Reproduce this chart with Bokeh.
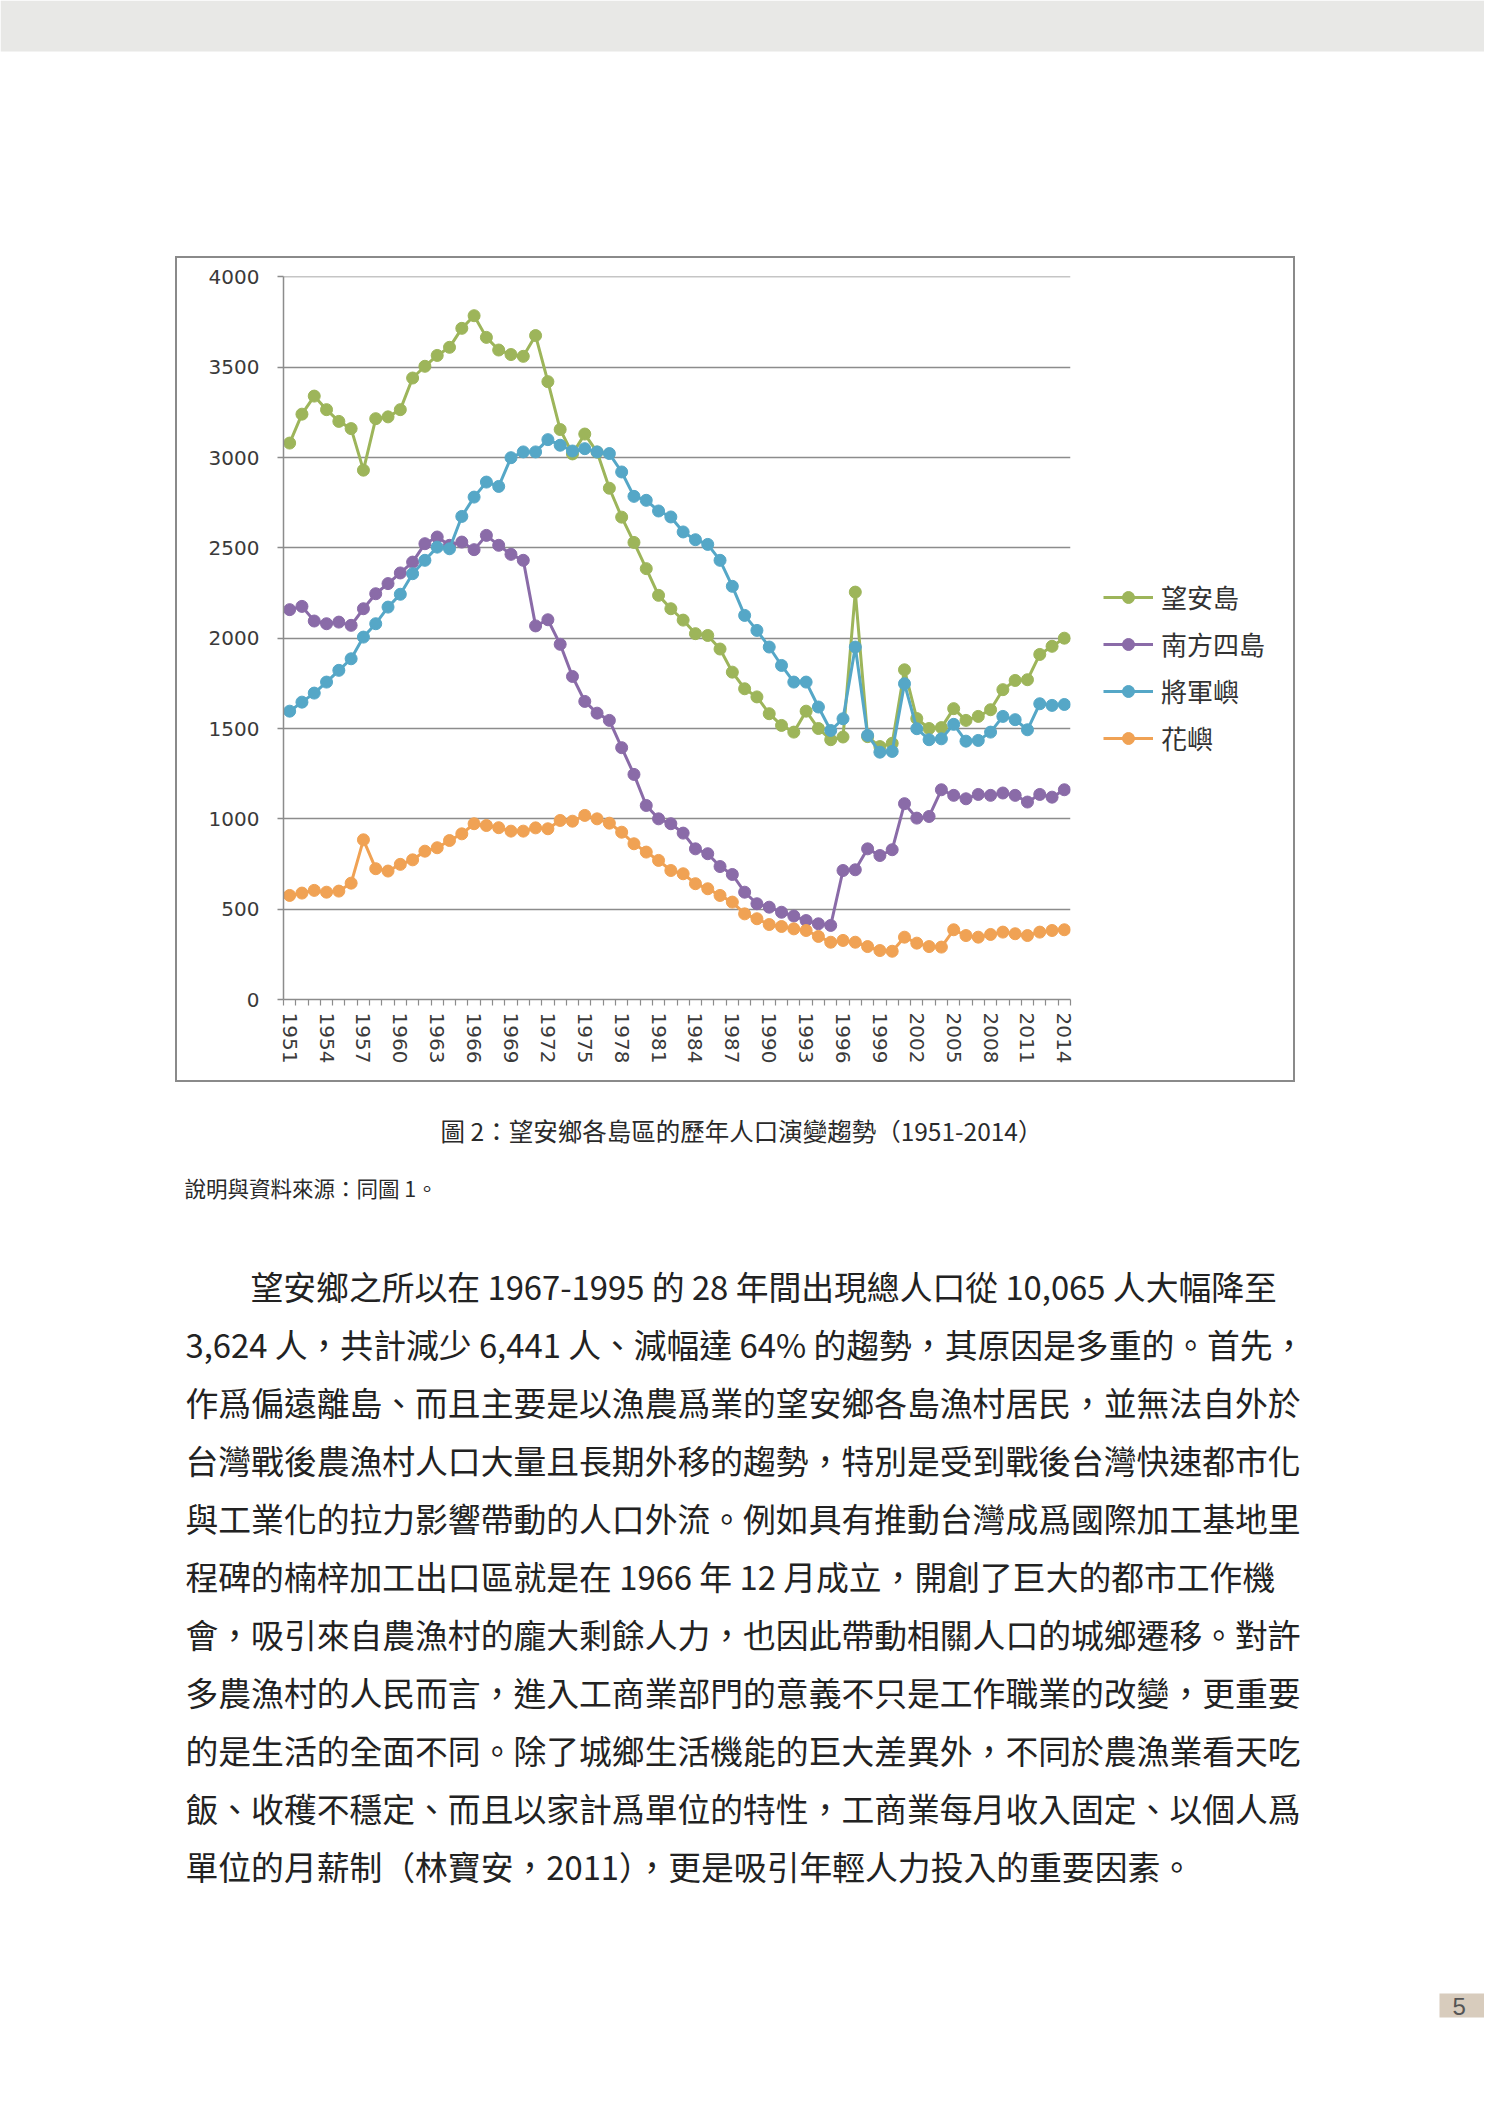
from bokeh.plotting import figure
from bokeh.models import (Range1d, LinearAxis, FixedTicker, Grid, Legend, LegendItem,
                          Spacer, ColumnDataSource)
from bokeh.layouts import column, row
from bokeh.core.properties import value
from bokeh.embed import file_html
from bokeh.resources import INLINE

# ---------------- data ----------------
years = list(range(1951, 2015))
wangan = [3080, 3240, 3340, 3265, 3200, 3160, 2930, 3215, 3225, 3265,
          3440, 3505, 3565, 3610, 3715, 3785, 3665, 3595, 3570, 3560,
          3675, 3420, 3155, 3020, 3130, 3030, 2830, 2670, 2530, 2385,
          2237, 2163, 2100, 2025, 2015, 1940, 1812, 1720, 1675, 1582,
          1517, 1480, 1596, 1500, 1438, 1453, 2255, 1455, 1400, 1418,
          1825, 1555, 1500, 1505, 1610, 1545, 1567, 1604, 1715, 1766,
          1770, 1910, 1955, 2000]
nanfang = [2158, 2176, 2095, 2080, 2089, 2071, 2163, 2246, 2302, 2361,
           2421, 2523, 2560, 2514, 2532, 2490, 2569, 2514, 2464, 2431,
           2068, 2102, 1966, 1788, 1650, 1585, 1545, 1394, 1246, 1074,
           1000, 973, 921, 834, 807, 736, 692, 594, 530, 511,
           483, 462, 437, 419, 410, 714, 718, 834, 797, 829,
           1084, 1004, 1013, 1161, 1130, 1111, 1135, 1130, 1143, 1130,
           1093, 1135, 1120, 1161]
jiangjun = [1596, 1646, 1696, 1757, 1822, 1886, 2006, 2080, 2172, 2243,
            2357, 2431, 2504, 2495, 2674, 2781, 2864, 2840, 2999, 3031,
            3031, 3099, 3068, 3036, 3049, 3031, 3022, 2920, 2785, 2763,
            2704, 2671, 2588, 2545, 2519, 2431, 2287, 2126, 2043, 1951,
            1849, 1757, 1757, 1619, 1489, 1554, 1951, 1462, 1369, 1373,
            1748, 1499, 1438, 1443, 1523, 1430, 1434, 1480, 1567, 1549,
            1493, 1637, 1628, 1633]
huayu = [576, 589, 604, 594, 600, 644, 884, 724, 711, 748,
         773, 821, 840, 880, 917, 973, 963, 951, 932, 932,
         950, 945, 991, 987, 1019, 1000, 976, 926, 862, 816,
         770, 714, 696, 641, 613, 576, 539, 474, 447, 415,
         404, 391, 382, 349, 317, 327, 317, 293, 271, 267,
         345, 312, 293, 290, 386, 354, 345, 360, 373, 364,
         354, 373, 382, 386]
series_names = ["望安島", "南方四島", "將軍嶼", "花嶼"]
series_values = [wangan, nanfang, jiangjun, huayu]
series_colors = ["#9db55a", "#8a6ba8", "#55a7c7", "#f0a254"]
y_ticks = [0, 500, 1000, 1500, 2000, 2500, 3000, 3500, 4000]
x_label_years = list(range(1951, 2015, 3))

caption = "圖 2：望安鄉各島區的歷年人口演變趨勢（1951-2014）"
note = "說明與資料來源：同圖 1。"
body_lines = [
    "望安鄉之所以在 1967-1995 的 28 年間出現總人口從 10,065 人大幅降至",
    "3,624 人，共計減少 6,441 人、減幅達 64% 的趨勢，其原因是多重的。首先，",
    "作爲偏遠離島、而且主要是以漁農爲業的望安鄉各島漁村居民，並無法自外於",
    "台灣戰後農漁村人口大量且長期外移的趨勢，特別是受到戰後台灣快速都市化",
    "與工業化的拉力影響帶動的人口外流。例如具有推動台灣成爲國際加工基地里",
    "程碑的楠梓加工出口區就是在 1966 年 12 月成立，開創了巨大的都市工作機",
    "會，吸引來自農漁村的龐大剩餘人力，也因此帶動相關人口的城鄉遷移。對許",
    "多農漁村的人民而言，進入工商業部門的意義不只是工作職業的改變，更重要",
    "的是生活的全面不同。除了城鄉生活機能的巨大差異外，不同於農漁業看天吃",
    "飯、收穫不穩定、而且以家計爲單位的特性，工商業每月收入固定、以個人爲",
    "單位的月薪制（林寶安，2011），更是吸引年輕人力投入的重要因素。",
]
page_number = "5"

CJK = "Noto Sans CJK TC"
AX_FONT = "DejaVu Sans"
W = 1484

# ---------------- top strip (page y 0..256) ----------------
top = figure(width=W, height=256, x_range=Range1d(0, W), y_range=Range1d(256, 0),
             output_backend="svg", toolbar_location=None, x_axis_location=None,
             y_axis_location=None, min_border=0, outline_line_color=None)
top.grid.visible = False
top.quad(left=[0], right=[W], top=[0], bottom=[51], fill_color="#e8e8e6", line_color=None)

# ---------------- chart (page box 175..1295 x 256..1082) ----------------
p = figure(width=914, height=822, x_range=Range1d(1950.5, 2014.5), y_range=Range1d(0, 4002),
           output_backend="svg", toolbar_location=None, x_axis_location=None,
           y_axis_location=None, min_border_left=106, min_border_right=21,
           min_border_top=18, min_border_bottom=81, outline_line_color=None)
p.grid.visible = False

yaxis = LinearAxis(ticker=FixedTicker(ticks=y_ticks))
yaxis.axis_line_color = "#8c8c8c"
yaxis.axis_line_width = 1.5
yaxis.major_tick_line_color = "#8c8c8c"
yaxis.major_tick_line_width = 1.5
yaxis.major_tick_out = 6
yaxis.major_tick_in = 0
yaxis.minor_tick_out = 0
yaxis.minor_tick_in = 0
yaxis.major_label_standoff = 18
yaxis.major_label_text_font = AX_FONT
yaxis.major_label_text_font_size = "20px"
yaxis.major_label_text_color = "#3a3a3a"
p.add_layout(yaxis, "left")

boundaries = [y - 0.5 for y in years] + [years[-1] + 0.5]
xaxis = LinearAxis(ticker=FixedTicker(ticks=x_label_years, minor_ticks=boundaries))
xaxis.axis_line_color = "#8c8c8c"
xaxis.axis_line_width = 1.5
xaxis.major_tick_line_color = None
xaxis.major_tick_out = 6
xaxis.major_tick_in = 0
xaxis.minor_tick_line_color = "#8c8c8c"
xaxis.minor_tick_line_width = 1.2
xaxis.minor_tick_out = 6
xaxis.minor_tick_in = 0
xaxis.major_label_orientation = "vertical"
xaxis.major_label_standoff = 7
xaxis.major_label_text_font = AX_FONT
xaxis.major_label_text_font_size = "20px"
xaxis.major_label_text_color = "#3a3a3a"
p.add_layout(xaxis, "below")

p.add_layout(Grid(dimension=1, ticker=yaxis.ticker, grid_line_color="#8c8c8c",
                  grid_line_width=1.5))

for name, vals, col in zip(series_names, series_values, series_colors):
    src = ColumnDataSource(dict(x=years, y=vals))
    p.line("x", "y", source=src, line_color=col, line_width=3, line_join="round")
    p.scatter("x", "y", source=src, size=12, fill_color=col, line_color=col)

# ---------------- legend panel (right part of the chart box) ----------------
lg = figure(width=202, height=822, x_range=Range1d(0, 1), y_range=Range1d(0, 1),
            output_backend="svg", toolbar_location=None, x_axis_location=None,
            y_axis_location=None, min_border=0, outline_line_color=None)
lg.grid.visible = False
items = []
for name, col in zip(series_names, series_colors):
    dummy = ColumnDataSource(dict(x=[float("nan")], y=[float("nan")]))
    lr = lg.line("x", "y", source=dummy, line_color=col, line_width=3)
    sr = lg.scatter("x", "y", source=dummy, size=12, fill_color=col, line_color=col)
    items.append(LegendItem(label=name, renderers=[lr, sr]))
legend = Legend(items=items, location=(12, 243), orientation="vertical",
                label_text_font=CJK, label_text_font_size="26px", label_text_color="#333333",
                glyph_width=50, glyph_height=30, label_height=30, spacing=10,
                label_standoff=8, padding=0, margin=0, border_line_color=None,
                background_fill_alpha=0)
lg.add_layout(legend)

box = row(p, lg, styles={"border": "2px solid #8a8a8a"})

# ---------------- text page (page y 1082..2099) ----------------
bt = figure(width=W, height=1017, x_range=Range1d(0, W), y_range=Range1d(2099, 1082),
            output_backend="svg", toolbar_location=None, x_axis_location=None,
            y_axis_location=None, min_border=0, outline_line_color=None)
bt.grid.visible = False
bt.text(x=[741], y=[1130], text=[caption], text_font=value(CJK), text_font_size="24.5px",
        text_align="center", text_baseline="middle", text_color="#2a2a2a")
bt.text(x=[184], y=[1187], text=[note], text_font=value(CJK), text_font_size="21.5px",
        text_align="left", text_baseline="middle", text_color="#2a2a2a")
bx = [250] + [185] * (len(body_lines) - 1)
by = [1285 + 58 * k for k in range(len(body_lines))]
bt.text(x=bx, y=by, text=body_lines, text_font=value(CJK), text_font_size="32.8px",
        text_align="left", text_baseline="middle", text_color="#222222")
bt.quad(left=[1439], right=[W], top=[1993], bottom=[2017], fill_color="#d8ccbd",
        line_color=None)
bt.text(x=[1452], y=[2006], text=[page_number], text_font=value("Liberation Sans"),
        text_font_size="24px", text_align="left", text_baseline="middle", text_color="#555555")

layout = column(top, row(Spacer(width=175, height=826), box), bt)
open("out.html", "w").write(file_html(layout, INLINE))
